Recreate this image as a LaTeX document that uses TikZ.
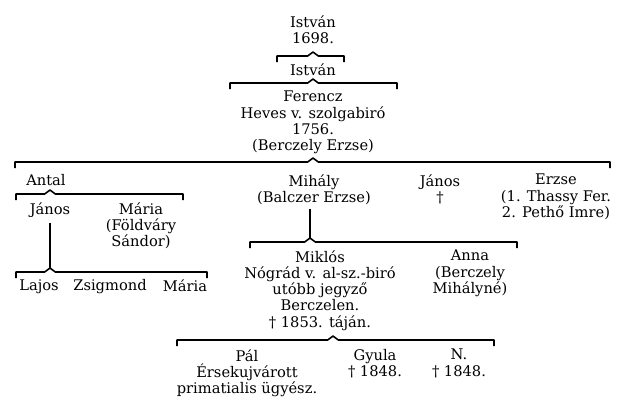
\documentclass[tikz,border=0pt]{standalone}
\usepackage{fontspec}
\setmainfont{DejaVu Serif}

% family bracket: peak coordinate, left x, right x
\newcommand{\fambrace}[3]{%
  \draw[famline] (#1 -| #2,0) ++(0,6) -- ++(0,-6) -- ([xshift=-4pt]#1) -- ([yshift=3pt]#1) -- ([xshift=4pt]#1) -- (#1 -| #3,0) -- ++(0,6);
}

\begin{document}
\begin{tikzpicture}[x=0.75pt,y=-0.75pt,
    person/.style={anchor=north, align=center, inner sep=0pt, font=\fontsize{11}{12.2}\selectfont},
    famline/.style={line width=1.2pt, line join=round}]
  \useasboundingbox (0,0) rectangle (626,405);

  % First generations
  \node[person] (istvan1) at (313,15) {István\\1698.};
  \node[person] (istvan2) at (313,63) {István};
  \node[person] (ferencz) at (313,91) {Ferencz\\Heves v. szolgabiró\\1756.\\(Berczely Erzse)};

  % Children of Ferencz
  \node[person] (antal) at (46,174) {Antal};
  \node[person] (mihaly) at (314,174) {Mihály\\(Balczer Erzse)};
  \node[person] (janos2) at (440,174) {János\\†};
  \node[person] (erzse) at (556,174) {Erzse\\(1. Thassy Fer.\\2. Pethő Imre)};

  % Children of Antal
  \node[person] (janos1) at (50,202) {János};
  \node[person] (maria1) at (141,202) {Mária\\(Földváry\\Sándor)};

  % Children of János
  \node[person] (lajos) at (39,279) {Lajos};
  \node[person] (zsigmond) at (110,279) {Zsigmond};
  \node[person] (maria2) at (185,279) {Mária};

  % Children of Mihály
  \node[person] (miklos) at (320,250) {Miklós\\Nógrád v. al-sz.-biró\\utóbb jegyző\\Berczelen.\\† 1853. táján.};
  \node[person] (anna) at (470,250) {Anna\\(Berczely\\Mihályné)};

  % Children of Miklós
  \node[person] (pal) at (247,349) {Pál\\Érsekujvárott\\primatialis ügyész.};
  \node[person] (gyula) at (375,349) {Gyula\\† 1848.};
  \node[person] (nn) at (459,349) {N.\\† 1848.};

  % Peaks of the family brackets
  \coordinate (pk1) at (313,56);
  \coordinate (pk2) at (313,83);
  \coordinate (pk3) at (313,162);
  \coordinate (pk4) at (50,194);
  \coordinate (pk5) at (50,272);
  \coordinate (pk6) at (310,242);
  \coordinate (pk7) at (333,340);

  \fambrace{pk1}{277}{344}
  \fambrace{pk2}{230}{397}
  \fambrace{pk3}{15}{610}
  \fambrace{pk4}{16}{183}
  \fambrace{pk5}{16}{207}
  \fambrace{pk6}{250}{517}
  \fambrace{pk7}{177}{494}

  % Lines down to the next generation
  \draw[famline] ([yshift=-4pt]janos1.south -| pk5) -- ([yshift=3pt]pk5);
  \draw[famline] ([yshift=-3pt]mihaly.south -| pk6) -- ([yshift=3pt]pk6);
\end{tikzpicture}
\end{document}
